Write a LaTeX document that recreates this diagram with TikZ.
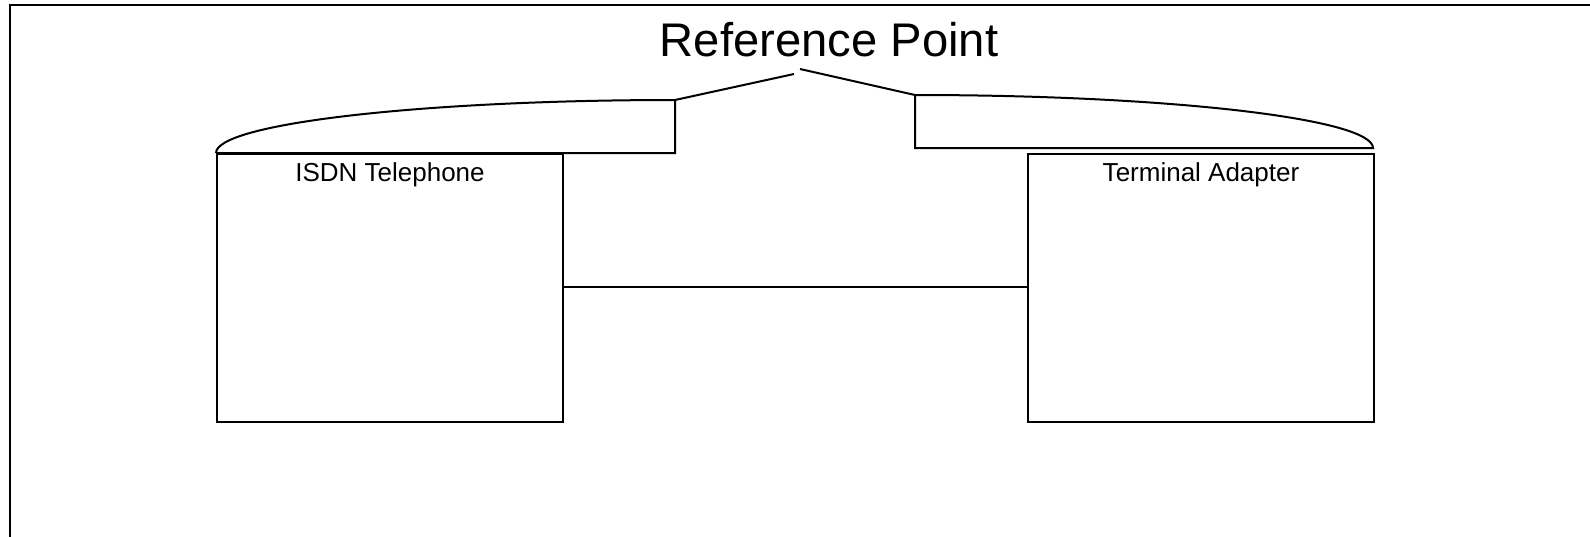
\documentclass[tikz,border=0pt]{standalone}
\usepackage{fontspec}
\setmainfont{Liberation Sans}

\tikzset{
  unit/.style={draw, minimum width=173pt, minimum height=134pt, inner sep=0pt,
    anchor=north west},
  unitname/.style={font=\fontsize{13}{15}\selectfont, anchor=base, yshift=-14.35pt},
  title/.style={font=\fontsize{23.6}{27}\selectfont, anchor=base}
}

\begin{document}
\begin{tikzpicture}[x=0.5pt, y=-0.5pt, line width=1pt]
\useasboundingbox (0,0) rectangle (1590,536);
\clip (0,0) rectangle (1590,536);

% frame
\draw[line width=1.25pt] (10,5) rectangle (1620,570);

% the two units and the line between them
\node[unit, label={[unitname]north:ISDN Telephone}] (phone) at (216,153) {};
\node[unit, label={[unitname]north:Terminal Adapter}] (adapter) at (1027,153) {};
\draw ([yshift=0.75pt]phone.east) -- ([yshift=0.75pt]adapter.west);

\node[title] (refpoint) at (829,56.7) {Reference Point};

% left bracket
\coordinate (lbtop) at (675,100);
\coordinate (lbend) at (794,74);
\draw (216,153) -- (675,153) -- (lbtop)
      .. controls (421.5,100) and (216,123.7) .. (216,153);
\draw (lbtop) -- (lbend);

% right bracket
\coordinate (rbtop) at (915,95);
\coordinate (rbend) at (800,69);
\draw (rbtop) -- (915,148) -- (1373,148)
      .. controls (1373,118.7) and (1167.9,95) .. (rbtop);
\draw (rbend) -- (rbtop);

\end{tikzpicture}
\end{document}
